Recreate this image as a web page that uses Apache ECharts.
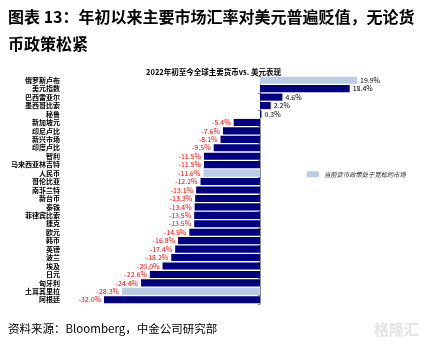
<!DOCTYPE html>
<html>
<head>
<meta charset="utf-8">
<script src="https://cdn.jsdelivr.net/npm/echarts@6/dist/echarts.min.js"></script>
<style>
html,body{margin:0;padding:0;background:#fff;}
#c{width:427px;height:345px;}
</style>
</head>
<body>
<div id="c"></div>
<script>
const categories = ['俄罗斯卢布','美元指数','巴西雷亚尔','墨西哥比索','秘鲁','新加坡元','印尼卢比','新兴市场','印度卢比','智利','马来西亚林吉特','人民币','哥伦比亚','南非兰特','新台币','泰铢','菲律宾比索','捷克','欧元','韩币','英镑','波兰','埃及','日元','匈牙利','土耳其里拉','阿根廷'];
const values = [19.9,18.4,4.6,2.2,0.3,-5.4,-7.6,-8.1,-9.5,-11.5,-11.5,-11.6,-12.2,-13.1,-13.3,-13.4,-13.5,-13.5,-14.5,-16.8,-17.4,-18.2,-20.0,-22.6,-24.4,-28.3,-32.0];
const easingMarkets = ['俄罗斯卢布','人民币','土耳其里拉'];
const legendName = '当前货币政策处于宽松的市场';
const chartTitle = '2022年初至今全球主要货币vs. 美元表现';
const mainTitle = '图表 13：年初以来主要市场汇率对美元普遍贬值，无论货\n币政策松紧';
const sourceText = '资料来源：Bloomberg，中金公司研究部';

const FONT = '"Noto Sans CJK SC", "Liberation Sans", sans-serif';
const DARK = '#000080';
const LIGHT = '#b9cde4';

function makeItem(v, show){
  if(!show) return '-';
  return {
    value: v,
    label: {
      show: true,
      position: v >= 0 ? 'right' : 'left',
      distance: 3,
      color: v >= 0 ? '#000' : '#ff0000',
      fontSize: 7,
      fontFamily: FONT,
      formatter: (p) => p.value.toFixed(1) + '%'
    }
  };
}
const darkData = categories.map((c,i)=>makeItem(values[i], easingMarkets.indexOf(c) < 0));
const lightData = categories.map((c,i)=>makeItem(values[i], easingMarkets.indexOf(c) >= 0));

const chart = echarts.init(document.getElementById('c'), null, {renderer:'canvas'});
chart.setOption({
  animation: false,
  backgroundColor: '#fff',
  textStyle: {fontFamily: FONT},
  title: {
    text: chartTitle,
    left: 'center',
    top: 63,
    textStyle: {fontSize: 7.5, fontWeight: 'bold', color: '#000', fontFamily: FONT}
  },
  legend: {
    data: [legendName],
    left: 302,
    top: 166,
    itemWidth: 12,
    itemHeight: 6,
    itemGap: 4,
    textStyle: {fontSize: 6.3, fontStyle: 'italic', color: '#1a1a1a', fontFamily: FONT}
  },
  grid: {left: 104, width: 253.5, top: 76, height: 228, containLabel: false},
  xAxis: {
    type: 'value', min: -32, max: 20,
    show: false
  },
  yAxis: [
    {
      type: 'category', data: categories, inverse: true,
      axisLine: {show: false, onZero: false},
      axisTick: {show: false},
      axisLabel: {margin: 44, fontSize: 7, color: '#000', fontWeight: 'bold', fontFamily: FONT, interval: 0},
      splitLine: {show: false}
    },
    {
      type: 'category', data: categories, inverse: true,
      position: 'left',
      axisLine: {show: true, onZero: true, lineStyle: {color: '#8c8c8c', width: 1}},
      axisTick: {show: true, length: 2, lineStyle: {color: '#8c8c8c'}},
      axisLabel: {show: false},
      splitLine: {show: false}
    }
  ],
  series: [
    {
      name: '主要货币', type: 'bar', data: darkData,
      itemStyle: {color: DARK},
      barCategoryGap: '16%', barGap: '-100%'
    },
    {
      name: legendName, type: 'bar', data: lightData,
      itemStyle: {color: LIGHT},
      barCategoryGap: '16%', barGap: '-100%'
    }
  ],
  graphic: [
    {
      type: 'text', left: 8, top: 3,
      style: {text: mainTitle, font: 'bold 16px ' + FONT, fill: '#000', lineHeight: 27}
    },
    {
      type: 'text', left: 8, top: 323,
      style: {text: sourceText, font: '11.5px ' + FONT, fill: '#000'}
    },
    {
      type: 'text', right: 8, top: 322,
      style: {text: '格隆汇', font: 'bold 15px ' + FONT, fill: '#e4e4e4'}
    }
  ]
});
</script>
</body>
</html>
